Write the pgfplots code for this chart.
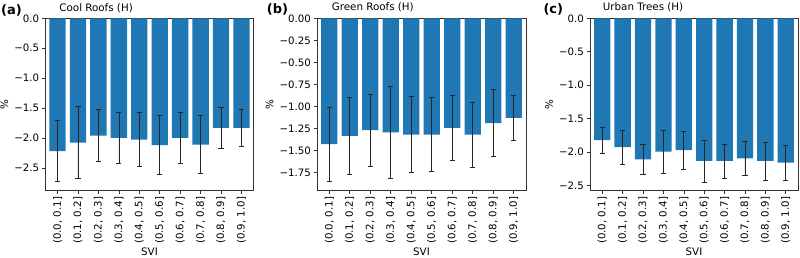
\documentclass[border=0pt]{standalone}
\usepackage{fontspec}
\setmainfont{DejaVu Sans}
\usepackage{pgfplots}
\usepackage{pgfplotstable}
\pgfplotsset{compat=1.18}
\definecolor{barblue}{HTML}{1F77B4}

\pgfplotstableread{
x y e
0 -2.22 0.51
1 -2.08 0.60
2 -1.96 0.43
3 -2.00 0.43
4 -2.03 0.45
5 -2.12 0.49
6 -2.00 0.42
7 -2.11 0.49
8 -1.83 0.34
9 -1.83 0.31
}\cool

\pgfplotstableread{
x y e
0 -1.43 0.42
1 -1.335 0.435
2 -1.27 0.41
3 -1.295 0.525
4 -1.32 0.43
5 -1.32 0.42
6 -1.245 0.365
7 -1.32 0.37
8 -1.19 0.38
9 -1.13 0.26
}\green

\pgfplotstableread{
x y e
0 -1.825 0.195
1 -1.93 0.25
2 -2.11 0.23
3 -1.995 0.325
4 -1.975 0.285
5 -2.135 0.315
6 -2.135 0.255
7 -2.095 0.255
8 -2.135 0.285
9 -2.16 0.26
}\trees

\pgfplotsset{
  panel/.style={
    scale only axis,
    height=171.7pt,
    anchor=south west,
    clip=false,
    ybar, bar width=0.8, bar shift=0pt,
    xmin=-0.6, xmax=9.6, ymax=0,
    xtick={0,...,9},
    xticklabels={{(0.0, 0.1]},{(0.1, 0.2]},{(0.2, 0.3]},{(0.3, 0.4]},{(0.4, 0.5]},{(0.5, 0.6]},{(0.6, 0.7]},{(0.7, 0.8]},{(0.8, 0.9]},{(0.9, 1.0]}},
    tick align=outside,
    major tick length=3.5pt,
    xtick pos=lower, ytick pos=left,
    tick style={black!80, line width=0.6pt},
    axis line style={black!80, line width=0.6pt},
    tick label style={font=\fontsize{10.2}{12}\selectfont},
    xticklabel style={rotate=90, anchor=east, inner sep=3.3pt},
    yticklabel style={inner sep=2.5pt},
    label style={font=\fontsize{10.3}{12}\selectfont},
    xlabel={SVI},
    xlabel style={inner sep=0.5pt},
    ylabel={\%},
  },
  bars/.style={
    fill=barblue, draw=none,
    error bars/.cd, y dir=both, y explicit,
    error bar style={draw=black!85, line width=0.7pt},
    error mark options={draw=black!85, line width=0.7pt, mark size=2.6pt, rotate=90},
  },
}

\begin{document}
\begin{tikzpicture}
\useasboundingbox (0,0) rectangle (800pt,257pt);

\begin{axis}[panel, at={(45.3pt,67pt)}, width=208.4pt,
  ymin=-2.87,
  ytick={-2.5,-2.0,-1.5,-1.0,-0.5,0},
  yticklabels={−2.5,−2.0,−1.5,−1.0,−0.5,0.0}]
\addplot[bars] table[x=x, y=y, y error=e] {\cool};
\node[anchor=base west, font=\fontsize{10.3}{12}\selectfont, inner sep=0pt, xshift=14pt, yshift=7.3pt] at (rel axis cs:0,1) {Cool Roofs (H)};
\node[anchor=base west, font=\fontsize{13}{15}\bfseries, inner sep=0pt, xshift=-44.3pt, yshift=4.3pt] at (rel axis cs:0,1) {(a)};
\end{axis}

\begin{axis}[panel, at={(317pt,67pt)}, width=209pt,
  ymin=-1.95,
  ytick={-1.75,-1.5,-1.25,-1.0,-0.75,-0.5,-0.25,0},
  yticklabels={−1.75,−1.50,−1.25,−1.00,−0.75,−0.50,−0.25,0.00}]
\addplot[bars] table[x=x, y=y, y error=e] {\green};
\node[anchor=base west, font=\fontsize{10.3}{12}\selectfont, inner sep=0pt, xshift=14.7pt, yshift=7.3pt] at (rel axis cs:0,1) {Green Roofs (H)};
\node[anchor=base west, font=\fontsize{13}{15}\bfseries, inner sep=0pt, xshift=-50.3pt, yshift=4.3pt] at (rel axis cs:0,1) {(b)};
\end{axis}

\begin{axis}[panel, at={(590pt,67pt)}, width=208pt,
  ymin=-2.57,
  ytick={-2.5,-2.0,-1.5,-1.0,-0.5,0},
  yticklabels={−2.5,−2.0,−1.5,−1.0,−0.5,0.0}]
\addplot[bars] table[x=x, y=y, y error=e] {\trees};
\node[anchor=base west, font=\fontsize{10.3}{12}\selectfont, inner sep=0pt, xshift=12.7pt, yshift=7.3pt] at (rel axis cs:0,1) {Urban Trees (H)};
\node[anchor=base west, font=\fontsize{13}{15}\bfseries, inner sep=0pt, xshift=-46.7pt, yshift=4.3pt] at (rel axis cs:0,1) {(c)};
\end{axis}
\end{tikzpicture}
\end{document}
